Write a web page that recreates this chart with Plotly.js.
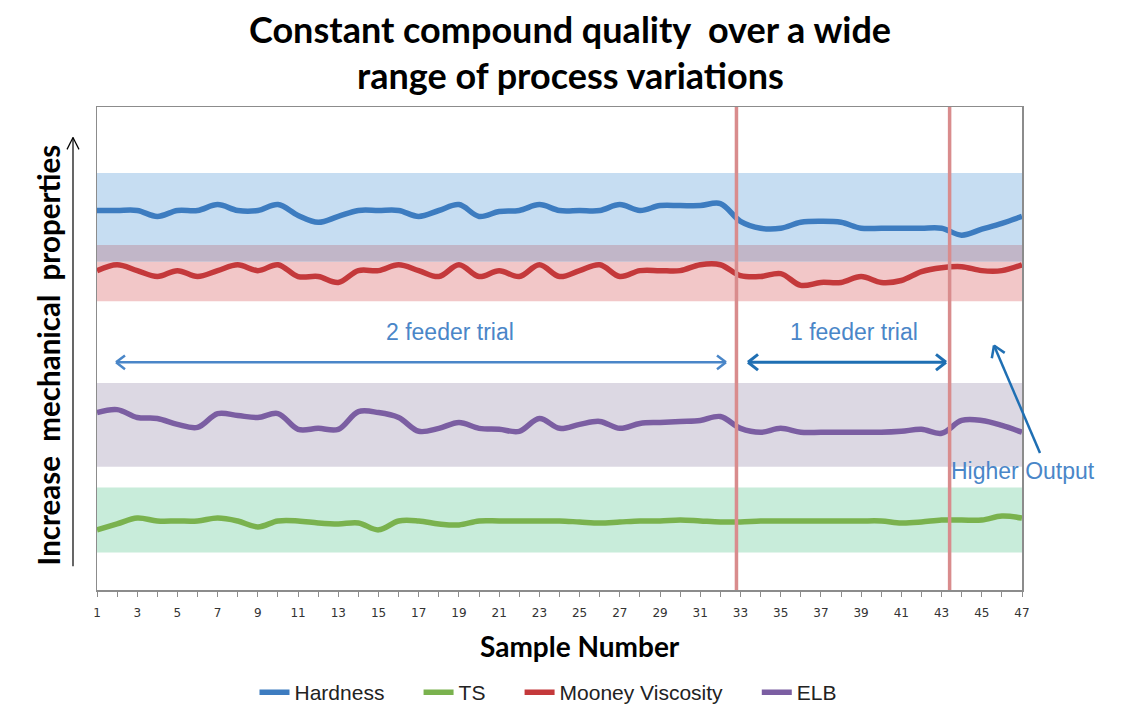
<!DOCTYPE html>
<html>
<head>
<meta charset="utf-8">
<script src="https://cdn.plot.ly/plotly-3.0.1.min.js"></script>
<style>html,body{margin:0;padding:0;background:#fff;}#chart{width:1141px;height:725px;}</style>
</head>
<body>
<div id="chart"></div>
<script>
// Sample numbers 1..47
const samples = [1,2,3,4,5,6,7,8,9,10,11,12,13,14,15,16,17,18,19,20,21,22,23,24,25,26,27,28,29,30,31,32,33,34,35,36,37,38,39,40,41,42,43,44,45,46,47];
const tickLabels = [1,3,5,7,9,11,13,15,17,19,21,23,25,27,29,31,33,35,37,39,41,43,45,47];

// Relative (unitless) property levels
const hardness = [385,385,385,379,385,385,391,385,385,391,380,373,379,385,385,385,379,385,391,379,384,385,391,385,385,385,391,385,390,390,390,392,374,367,367,373,374,373,367,367,367,367,367,360,366,372,379];
const ts       = [61,67,73,70,70,70,73,70,64,70,70,68,67,68,61,70,70,67,66,70,70,70,70,70,69,68,69,70,70,71,70,69,69,70,70,70,70,70,70,70,68,69,71,71,71,75,73];
const mooney   = [324,330,324,318,324,318,324,330,324,330,318,318,312,324,324,330,324,318,330,318,324,318,330,318,324,330,318,324,324,324,330,330,319,318,321,309,312,312,318,312,314,323,327,328,324,324,330];
const elb      = [180,183,175,174,168,165,179,177,175,179,163,164,163,181,180,175,161,164,170,164,163,161,174,164,168,171,164,169,170,171,172,176,164,160,164,160,160,160,160,160,161,163,159,172,172,167,160];

// Target bands
const bandHardness = [333, 350, 423];   // low, overlap-top, high
const bandMooney   = [293, 350];
const bandElb      = [125, 210];
const bandTs       = [38, 104];

// Trial boundaries (sample positions)
const trialLines = [32.8, 43.4];

const seriesNames = ['Hardness','TS','Mooney Viscosity','ELB'];
const seriesColors = ['#3d7cc0','#7ab24e','#c4393b','#7b5ea2'];
const seriesData = [hardness, ts, mooney, elb];
const pad = '\u00a0\u00a0\u00a0\u00a0\u00a0';

const traces = seriesData.map((d,i)=>({
  x: samples, y: d, name: seriesNames[i] + (i<3 ? pad : ''), type:'scatter', mode:'lines',
  line:{color: seriesColors[i], width:5.5, shape:'spline', smoothing:1},
  hoverinfo:'x+y'
}));

const px2x = p => (p-97)/925;   // paper x from pixel
const px2y = p => (597-p)/490;  // paper y from pixel

const shapes = [
  {type:'rect', xref:'paper', x0:0, x1:1, yref:'y', y0:bandHardness[1], y1:bandHardness[2], fillcolor:'#c6ddf2', line:{width:0}, layer:'below'},
  {type:'rect', xref:'paper', x0:0, x1:1, yref:'y', y0:bandMooney[0], y1:bandHardness[0], fillcolor:'#f2c7c8', line:{width:0}, layer:'below'},
  {type:'rect', xref:'paper', x0:0, x1:1, yref:'y', y0:bandHardness[0], y1:bandMooney[1], fillcolor:'#c1b6c8', line:{width:0}, layer:'below'},
  {type:'rect', xref:'paper', x0:0, x1:1, yref:'y', y0:bandElb[0], y1:bandElb[1], fillcolor:'#dcd8e3', line:{width:0}, layer:'below'},
  {type:'rect', xref:'paper', x0:0, x1:1, yref:'y', y0:bandTs[0], y1:bandTs[1], fillcolor:'#c8ecda', line:{width:0}, layer:'below'},
];
trialLines.forEach(v=>shapes.push({type:'line', xref:'x', x0:v, x1:v, yref:'paper', y0:0, y1:1, line:{color:'#d98c8d', width:3.5}, layer:'above'}));

// arrows drawn in page pixels (converted to paper coords) with open chevron heads
function seg(x0,y0,x1,y1,color,w){
  shapes.push({type:'line', xref:'paper', yref:'paper', x0:px2x(x0), y0:px2y(y0), x1:px2x(x1), y1:px2y(y1), line:{color:color, width:w}});
}
function head(hx,hy,tx,ty,color,w,L,W){
  const dx=hx-tx, dy=hy-ty, n=Math.hypot(dx,dy), ux=dx/n, uy=dy/n, nx=-uy, ny=ux;
  seg(hx-L*ux+W*nx, hy-L*uy+W*ny, hx, hy, color, w);
  seg(hx-L*ux-W*nx, hy-L*uy-W*ny, hx, hy, color, w);
}
function arrow(x0,y0,x1,y1,color,w,both,L,W){
  seg(x0,y0,x1,y1,color,w);
  head(x1,y1,x0,y0,color,w,L,W);
  if(both) head(x0,y0,x1,y1,color,w,L,W);
}
arrow(73,573,73,138,'#000',1.2,false,12,6);
arrow(116,366,726,366,'#4a86c8',2.5,true,9,7);
arrow(748,366,946,366,'#1f6fb3',3,true,10,8);
arrow(1040,458,994,349,'#1f6fb3',2.5,false,11,7);

const annFont = {family:'Liberation Sans, Arial, sans-serif', size:23, color:'#4a86c8'};
const titleFont = {family:'Lato, sans-serif', size:36, color:'#000', weight:'bold'};
const C = {xanchor:'center', yanchor:'middle', showarrow:false};
const annotations = [
  Object.assign({xref:'paper', yref:'paper', x:(570-97)/925, y:px2y(28), text:'Constant compound quality  over a wide', font:titleFont}, C),
  Object.assign({xref:'paper', yref:'paper', x:(570-97)/925, y:px2y(75), text:'range of process variations', font:titleFont}, C),
  Object.assign({xref:'paper', yref:'paper', x:px2x(450), y:px2y(335), text:'2 feeder trial', font:annFont}, C),
  Object.assign({xref:'paper', yref:'paper', x:px2x(854), y:px2y(335), text:'1 feeder trial', font:annFont}, C),
  Object.assign({xref:'paper', yref:'paper', x:px2x(1023), y:px2y(476), text:'Higher Output', font:annFont}, C),
  Object.assign({xref:'paper', yref:'paper', x:px2x(48), y:px2y(359), text:'Increase  mechanical  properties', textangle:-90, font:{family:'Lato, sans-serif', size:29.5, color:'#000', weight:'bold'}}, C),
  Object.assign({xref:'paper', yref:'paper', x:px2x(580), y:px2y(654), text:'Sample Number', font:{family:'Lato, sans-serif', size:28, color:'#000', weight:'bold'}}, C),
];

const layout = {
  width:1141, height:725,
  margin:{l:97, r:119, t:107, b:128},
  paper_bgcolor:'#fff', plot_bgcolor:'#fff',
  showlegend:true,
  legend:{orientation:'h', x:px2x(548), xanchor:'center', y:px2y(701), yanchor:'middle', font:{family:'Liberation Sans, Arial, sans-serif', size:21, color:'#222'}, itemwidth:30, tracegroupgap:0},
  xaxis:{range:[1,47], tickvals:tickLabels, ticktext:tickLabels.map(String), showgrid:false, zeroline:false, showline:true, linecolor:'#8c8c8c', linewidth:1.5, mirror:true, ticks:'outside', ticklen:5, tickcolor:'#8c8c8c', ticklabelstandoff:6,
    minor:{dtick:1, tick0:0, ticks:'outside', ticklen:5, tickcolor:'#8c8c8c'},
    tickfont:{family:'DejaVu Sans, sans-serif', size:12, color:'#333'}},
  yaxis:{range:[0,490], showticklabels:false, showgrid:false, zeroline:false, showline:true, linecolor:'#8c8c8c', linewidth:1.5, mirror:true, ticks:''},
  shapes:shapes, annotations:annotations
};

Plotly.newPlot('chart', traces, layout, {displayModeBar:false, staticPlot:true});
</script>
</body>
</html>
